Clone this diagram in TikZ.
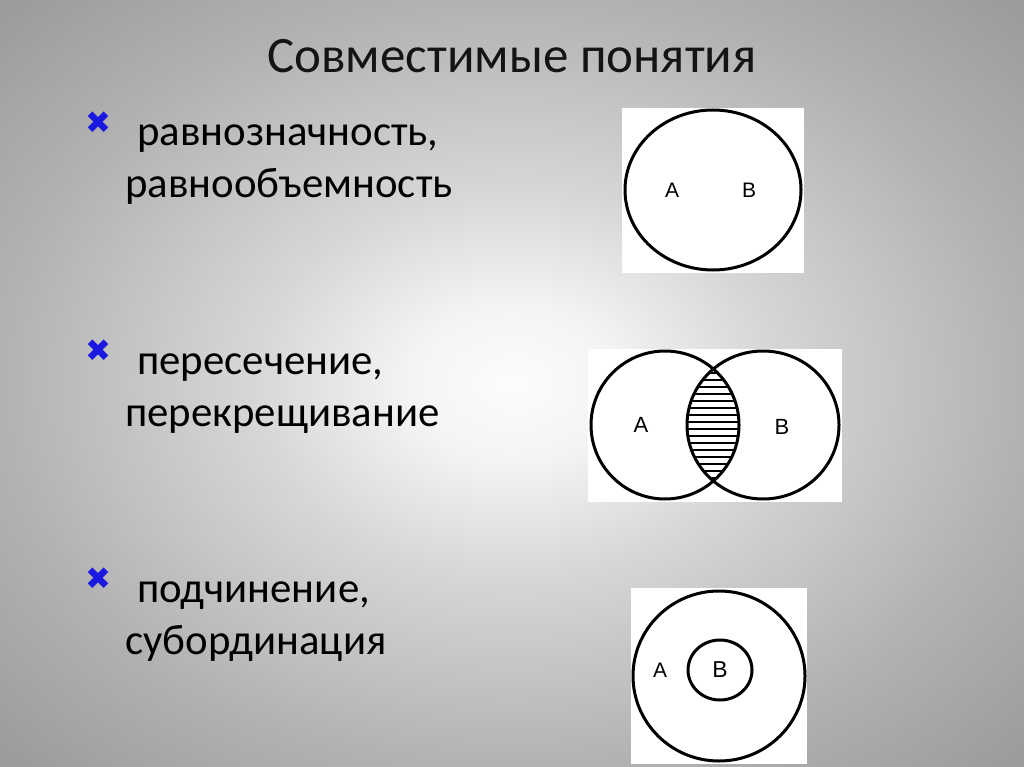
\documentclass[tikz,border=0pt]{standalone}
\usepackage{fontspec}
\setmainfont{Carlito}
\newfontfamily\dejavu{DejaVu Sans}
\newfontfamily\labfont{Liberation Sans}
\definecolor{bulletblue}{RGB}{25,25,225}
\definecolor{bgA}{RGB}{252,252,252}
\definecolor{bgB}{RGB}{244,244,244}
\definecolor{bgC}{RGB}{215,215,215}
\definecolor{bgD}{RGB}{178,178,178}
\definecolor{bgE}{RGB}{155,155,155}
\pgfdeclareradialshading{bgshade}{\pgfpoint{0bp}{0bp}}{color(0bp)=(bgA); color(5bp)=(bgB); color(12.5bp)=(bgC); color(25bp)=(bgD); color(35bp)=(bgE); color(50bp)=(bgE)}
\tikzset{
  body/.style={anchor=base west, inner sep=0pt, font=\fontsize{42.8}{50}\selectfont, text=black},
  bul/.style={anchor=center, inner sep=0pt, font=\dejavu\fontsize{31}{34}\selectfont, text=bulletblue},
  panel/.style={fill=white, draw=none},
  ring/.style={draw=black, line width=3pt},
  lab/.style={inner sep=0pt, font=\labfont\fontsize{21}{24}\selectfont},
}
\begin{document}
\begin{tikzpicture}[x=1pt,y=-1pt]
\useasboundingbox (0,0) rectangle (1024,767);
\shade[shading=bgshade] (0,0) rectangle (1024,767);
% title
\node[anchor=base, inner sep=0pt, font=\fontsize{51}{60}\selectfont, text=black!92] (title) at (512,73) {Совместимые понятия};
% bullets and text
\node[bul] (b1) at (98,123) {✖};
\node[body] (t1) at (137,146) {равнозначность,};
\node[body] (t1b) at (125,198) {равнообъемность};
\node[bul] (b2) at (98,351) {✖};
\node[body] (t2) at (137,374) {пересечение,};
\node[body] (t2b) at (125,426) {перекрещивание};
\node[bul] (b3) at (98,579) {✖};
\node[body] (t3) at (137,602) {подчинение,};
\node[body] (t3b) at (125,654) {субординация};
% diagram 1
\fill[panel] (622,108) rectangle (804,273);
\draw[ring] (713,190) ellipse [x radius=88, y radius=80];
\node[lab] (a1) at (672,190) {A};
\node[lab] (bb1) at (749,190) {B};
% diagram 2
\fill[panel] (588,349) rectangle (842,502);
\begin{scope}
  \clip (665,425) ellipse [x radius=74, y radius=74];
  \clip (763,425) ellipse [x radius=76, y radius=74];
  \foreach \yy in {352,359,...,500} \draw[line width=2pt] (680,\yy) -- (750,\yy);
\end{scope}
\draw[ring] (665,425) ellipse [x radius=74, y radius=74];
\draw[ring] (763,425) ellipse [x radius=76, y radius=74];
\node[lab, font=\labfont\fontsize{22}{24}\selectfont] (a2) at (641,425) {A};
\node[lab, font=\labfont\fontsize{22}{24}\selectfont] (bb2) at (782,427) {B};
% diagram 3
\fill[panel] (631,588) rectangle (807,764);
\draw[ring] (719,676) ellipse [x radius=86, y radius=85];
\draw[ring] (720,670) ellipse [x radius=32, y radius=30];
\node[lab] (a3) at (660,670) {A};
\node[lab, font=\labfont\fontsize{23}{26}\selectfont] (bb3) at (720,670) {B};
\end{tikzpicture}
\end{document}
